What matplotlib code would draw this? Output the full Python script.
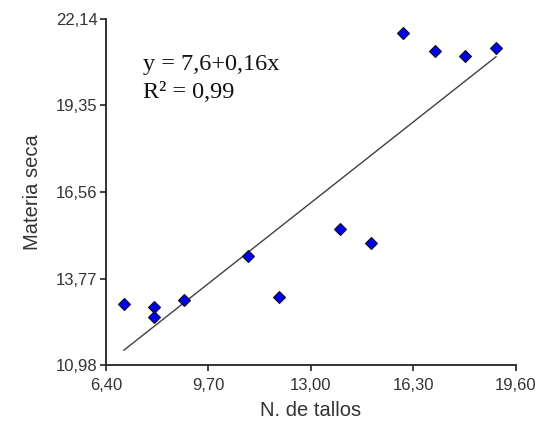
import matplotlib.pyplot as plt

# values
tallos = [6.98, 7.96, 7.96, 8.93, 10.96, 11.99, 13.95, 14.95, 15.98, 16.99, 17.97, 18.96]
materia = [12.96, 12.86, 12.52, 13.08, 14.50, 13.19, 15.37, 14.92, 21.70, 21.11, 20.95, 21.21]

# fitted line ends as drawn
fit_x = [6.98, 18.96]
fit_y = [11.46, 20.92]

xticks = [6.40, 9.70, 13.00, 16.30, 19.60]
yticks = [10.98, 13.77, 16.56, 19.35, 22.14]

txt = '#333333'

fig = plt.figure(figsize=(5.43, 4.30), dpi=100)
ax = fig.add_axes([0.195, 0.151, 0.755, 0.805])

ax.plot(fit_x, fit_y, color='#404040', lw=1.0)
ax.plot(tallos, materia, 'D', color='#0000ee', markeredgecolor='#111111',
        markeredgewidth=0.8, markersize=6.2, linestyle='none')

ax.set_xlim(xticks[0], xticks[-1])
ax.set_ylim(yticks[0], yticks[-1])
ax.set_xticks(xticks)
ax.set_yticks(yticks)
ax.set_xticklabels([('%.2f' % v).replace('.', ',') for v in xticks])
ax.set_yticklabels([('%.2f' % v).replace('.', ',') for v in yticks])

for s in ['top', 'right']:
    ax.spines[s].set_visible(False)
for s in ['left', 'bottom']:
    ax.spines[s].set_color('#222222')
    ax.spines[s].set_linewidth(1.3)

ax.tick_params(direction='out', length=4, width=1.2, color='#222222',
               labelsize=12, labelcolor=txt)
ax.tick_params(axis='x', pad=5)
ax.tick_params(axis='y', pad=2)
for lab in ax.get_xticklabels() + ax.get_yticklabels():
    lab.set_family('Liberation Sans')

ax.set_xlabel('N. de tallos', fontsize=14.5, color=txt, family='Liberation Sans', labelpad=6)
ax.set_ylabel('Materia seca', fontsize=14.5, color=txt, family='Liberation Sans', labelpad=10)

ax.text(7.58, 20.49, 'y = 7,6+0,16x', fontsize=17.5, family='Liberation Serif', color='#111111')
ax.text(7.58, 19.58, 'R² = 0,99', fontsize=17.5, family='Liberation Serif', color='#111111')

fig.savefig('out.png', dpi=100)
